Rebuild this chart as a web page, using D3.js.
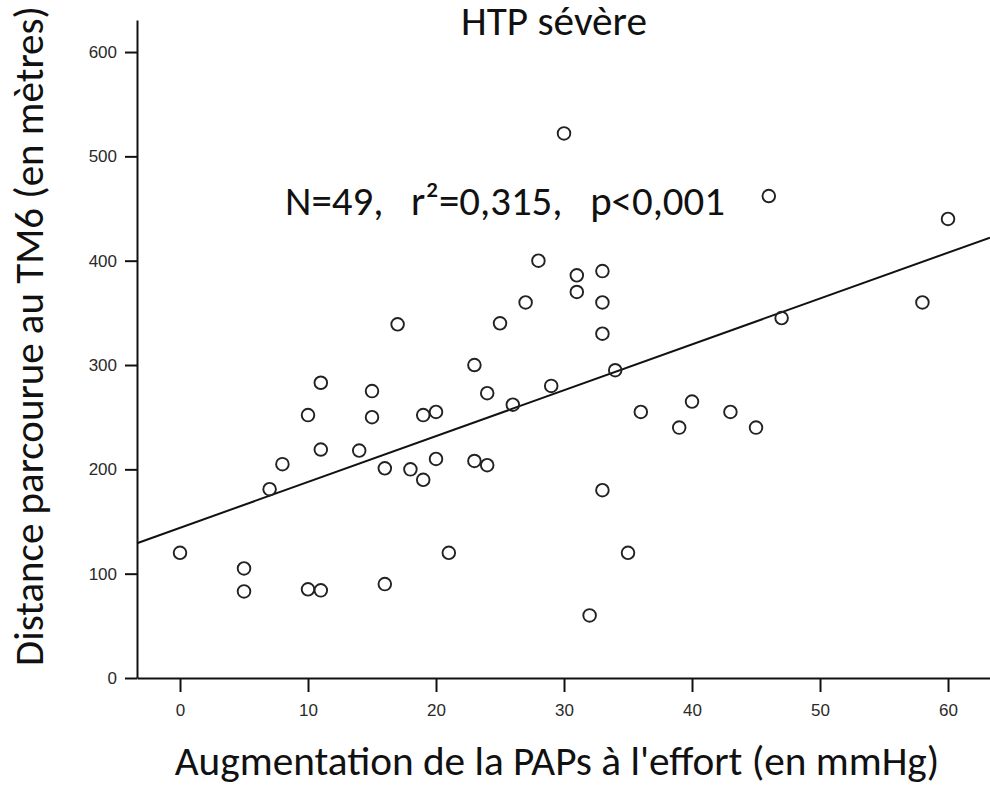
<!DOCTYPE html>
<html>
<head>
<meta charset="utf-8">
<title>HTP sévère</title>
<style>
  body { margin: 0; background: #fff; }
  svg { display: block; }
</style>
</head>
<body>
<svg></svg>
<script src="https://cdnjs.cloudflare.com/ajax/libs/d3/7.8.5/d3.min.js"></script>
<script>
// data
var papsRise = [0, 5, 5, 7, 8, 10, 10, 11, 11, 11, 14, 15, 15, 16, 16, 17, 18, 19, 19, 20, 20, 21,
                23, 23, 24, 24, 25, 26, 27, 28, 29, 30, 31, 31, 32, 33, 33, 33, 33, 34, 35, 36,
                39, 40, 43, 45, 46, 47, 58, 60]
var distance = [120, 105, 83, 181, 205, 252, 85, 283, 219, 84, 218, 275, 250, 201, 90, 339, 200, 252, 190, 255, 210, 120,
                300, 208, 273, 204, 340, 262, 360, 400, 280, 522, 386, 370, 60, 390, 360, 330, 180, 295, 120, 255,
                240, 265, 255, 240, 462, 345, 360, 440]
var xTicks = [0, 10, 20, 30, 40, 50, 60]
var yTicks = [0, 100, 200, 300, 400, 500, 600]
var title = "HTP sévère"
var statsLabel = "N=49,   r²=0,315,   p<0,001"
var xTitle = "Augmentation de la PAPs à l'effort (en mmHg)"
var yTitle = "Distance parcourue au TM6 (en mètres)"

// init vars
var _width = 990
var _height = 787
var _svg = d3.select("svg").attr("width", _width).attr("height", _height)
var bigFont = "Carlito, Lato, 'Open Sans', sans-serif"
var tickFont = "'Liberation Sans', Arial, sans-serif"

// scales
var x = d3.scaleLinear().domain([-3.36, 63.28]).range([137, 990])
var y = d3.scaleLinear().domain([0, 630.7]).range([678, 20])

// least squares fit
var mx = d3.mean(papsRise), my = d3.mean(distance)
var sxy = d3.sum(papsRise, function(v, i) { return (v - mx) * (distance[i] - my) })
var sxx = d3.sum(papsRise, function(v) { return (v - mx) * (v - mx) })
var slope = sxy / sxx
var intercept = my - slope * mx

// axes
_svg.append("g")
  .attr("transform", "translate(0," + y(0) + ")")
  .call(d3.axisBottom(x).tickValues(xTicks).tickSize(14).tickSizeOuter(0).tickPadding(12))
_svg.append("g")
  .attr("transform", "translate(" + x.range()[0] + ",0)")
  .call(d3.axisLeft(y).tickValues(yTicks).tickSize(12).tickSizeOuter(0).tickPadding(8))

_svg.selectAll(".domain, .tick line").attr("stroke", "#111").attr("stroke-width", 2)
_svg.selectAll(".tick text")
  .attr("font-family", tickFont)
  .attr("font-size", 17)
  .attr("fill", "#2a2a2a")

// regression line
var xd = x.domain()
_svg.append("line")
  .attr("x1", x(xd[0])).attr("y1", y(intercept + slope * xd[0]))
  .attr("x2", x(xd[1])).attr("y2", y(intercept + slope * xd[1]))
  .attr("stroke", "#111")
  .attr("stroke-width", 2)

// points
_svg.append("g").selectAll("circle")
  .data(papsRise)
  .join("circle")
  .attr("cx", function(d) { return x(d) })
  .attr("cy", function(d, i) { return y(distance[i]) })
  .attr("r", 6.3)
  .attr("fill", "none")
  .attr("stroke", "#222")
  .attr("stroke-width", 1.9)

// texts, scaled to fit their width on the picture; (cx, base) = centre of baseline
function addText(str, cx, base, width, rotate) {
  var t = _svg.append("text")
    .text(str)
    .attr("font-family", bigFont)
    .attr("font-size", 30)
    .attr("fill", "#111")
    .attr("text-anchor", "middle")
    .style("white-space", "pre")
  var len = t.node().getComputedTextLength()
  t.attr("font-size", 30 * width / len)
  if (rotate) {
    t.attr("transform", "translate(" + base + "," + cx + ") rotate(-90)")
  } else {
    t.attr("x", cx).attr("y", base)
  }
  return t
}

addText(title, 554, 35, 186, false)
addText(statsLabel, 505, 215, 440, false)
addText(xTitle, 557, 775, 765, false)
addText(yTitle, 336, 43, 660, true)
</script>
</body>
</html>
